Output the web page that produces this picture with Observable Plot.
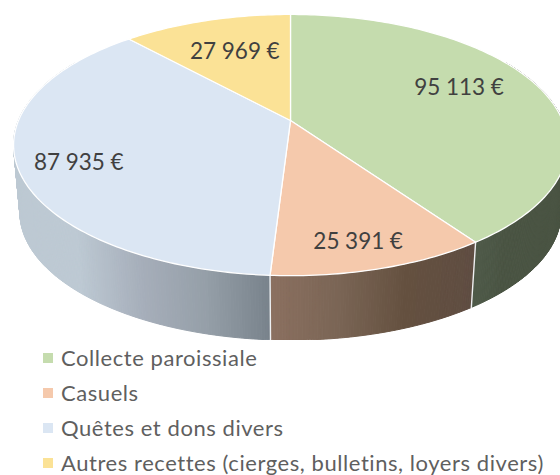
<!DOCTYPE html>
<html lang="fr">
<head>
<meta charset="utf-8">
<script src="https://cdn.jsdelivr.net/npm/d3@7"></script>
<script src="https://cdn.jsdelivr.net/npm/@observablehq/plot@0.6"></script>
<style>
html,body{margin:0;padding:0;background:#fff;overflow:hidden}
#legend{font-family:Lato,sans-serif;font-size:22px;letter-spacing:.56px;color:#5f5f5f;margin:0;padding:0 0 0 43px;white-space:nowrap}
#legend div{display:flex;align-items:center;height:35px}
#legend span{line-height:22px}
#legend i{display:inline-block;width:10px;height:10px;margin-right:8px;flex:none}
</style>
</head>
<body>
<div id="chart"></div>
<div id="legend"></div>
<script>
const categories = ["Collecte paroissiale", "Casuels", "Quêtes et dons divers", "Autres recettes (cierges, bulletins, loyers divers)"];
const values = [95113, 25391, 87935, 27969];
const valueLabels = ["95\u2005113\u2005€", "25\u2005391\u2005€", "87\u2005935\u2005€", "27\u2005969\u2005€"];
const topColors = ["#c5dcae", "#f5c9ac", "#dbe6f3", "#fbe296"];
const wallColors = [
  ["#4a5443", "#4d5847", "#4e5948"],
  ["#5f4d42", "#64503f", "#7a6555", "#8b7060"],
  ["#78828b", "#959fa8", "#a6aeba", "#bdc9d3"],
  ["#fbe296", "#fbe296"]
];
const labelOffsets = [[6, -9], [13, 32], [-38, 14], [2, 0]];

// Perspective of the tilted pie
const tilt = 0.188, lowerScale = 0.977, drop = 0.54;
const rad = Math.PI / 180;
const project = (deg, r = 1) => {
  const u = r * Math.sin(deg * rad), v = r * Math.cos(deg * rad), w = 1 + tilt * v;
  return [u / w, v / w];
};
const lower = ([x, y]) => [x * lowerScale, y * lowerScale - drop];

const total = d3.sum(values);
let cum = 0;
const slices = values.map((v, i) => {
  const start = cum / total * 360;
  cum += v;
  return {i, start, end: cum / total * 360, mid: (start + cum / total * 360) / 2};
});

const topRows = [], wallRows = [], edgeRows = [], labelRows = [];
const wallFrom = 60, wallTo = 300, wallStep = 0.5;
for (const s of slices) {
  for (let a = s.start; ; a += 1) {
    const deg = Math.min(a, s.end);
    const [x, y] = project(deg);
    topRows.push({id: s.i, x, y, fill: topColors[s.i]});
    if (deg === s.end) break;
  }
  const [ax, ay] = project(0, 0);
  topRows.push({id: s.i, x: ax, y: ay, fill: topColors[s.i]});
  const [fx, fy] = project(s.start);
  topRows.push({id: s.i, x: fx, y: fy, fill: topColors[s.i]});

  const from = Math.max(s.start, wallFrom), to = Math.min(s.end, wallTo);
  if (from < to) {
    const ramp = d3.scaleLinear()
      .domain(d3.quantize(d3.interpolateNumber(project(from)[0], project(to)[0]), wallColors[s.i].length))
      .range(wallColors[s.i]).clamp(true);
    for (let a = from; a < to; a += wallStep) {
      const b = Math.min(a + wallStep, to);
      const p = project(a), q = project(b), pl = lower(p), ql = lower(q);
      const c = ramp((p[0] + q[0]) / 2);
      const id = s.i + "-" + a;
      for (const pt of [p, q, ql, pl, p]) wallRows.push({id, x: pt[0], y: pt[1], fill: c});
    }
  }
  if (s.start > 90 && s.start < 270) {
    const p = project(s.start), pl = lower(p);
    edgeRows.push({id: s.i, x: p[0], y: p[1]}, {id: s.i, x: pl[0], y: pl[1]});
  }
  const [lx, ly] = project(s.mid, 0.65);
  labelRows.push({x: lx, y: ly, text: valueLabels[s.i], dx: labelOffsets[s.i][0], dy: labelOffsets[s.i][1]});
}

const chart = Plot.plot({
  width: 560,
  height: 340,
  margin: 0,
  x: {domain: [-1, 1], range: [18, 562], axis: null},
  y: {domain: [-1, 1], range: [246, -6], axis: null},
  color: {type: "identity"},
  marks: [
    Plot.line(wallRows, {x: "x", y: "y", z: "id", fill: "fill", stroke: "fill", strokeWidth: 1, curve: "linear"}),
    Plot.line(edgeRows, {x: "x", y: "y", z: "id", stroke: "#eef0f2", strokeWidth: 1.4}),
    Plot.line(topRows, {x: "x", y: "y", z: "id", fill: "fill", stroke: "#ffffff", strokeWidth: 1.3, strokeLinejoin: "round", curve: "linear"}),
    ...labelRows.map(d => Plot.text([d], {
      x: "x", y: "y", text: "text", dx: d.dx, dy: d.dy,
      fontFamily: "Lato, sans-serif", fontSize: 22.5, fill: "#404040"
    }))
  ]
});
document.getElementById("chart").append(chart);
chart.style.display = "block";

d3.select("#legend").selectAll("div").data(categories).join("div")
  .html((d, i) => `<i style="background:${topColors[i]}"></i><span>${d}</span>`);
</script>
</body>
</html>
